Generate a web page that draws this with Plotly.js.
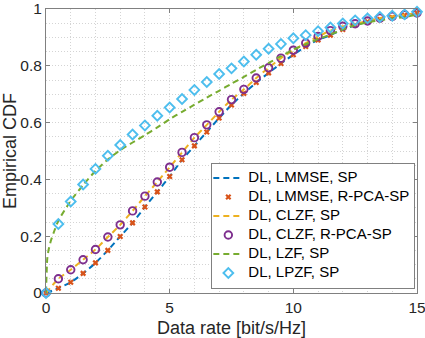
<!DOCTYPE html>
<html>
<head>
<meta charset="utf-8">
<script src="https://cdn.plot.ly/plotly-3.0.1.min.js"></script>
<style>html,body{margin:0;padding:0;background:#fff;}#chart{width:425px;height:338px;}</style>
</head>
<body>
<div id="chart"></div>
<script>
// Data rate grid for marker series (bit/s/Hz)
const rate = [0,0.5,1,1.5,2,2.5,3,3.5,4,4.5,5,5.5,6,6.5,7,7.5,8,8.5,9,9.5,10,10.5,11,11.5,12,12.5,13,13.5,14,14.5,15];

// DL, LMMSE (SP line and R-PCA-SP markers)
const lmmse = [0,0.017,0.038,0.069,0.106,0.150,0.199,0.247,0.303,0.356,0.410,0.469,0.518,0.567,0.616,0.662,0.703,0.741,0.775,0.808,0.839,0.868,0.891,0.908,0.928,0.943,0.955,0.963,0.970,0.978,0.986];

// DL, CLZF (SP line and R-PCA-SP markers)
const clzf = [0,0.050,0.082,0.117,0.153,0.197,0.240,0.289,0.341,0.391,0.443,0.495,0.547,0.592,0.638,0.681,0.717,0.757,0.793,0.827,0.855,0.880,0.903,0.924,0.939,0.948,0.958,0.968,0.974,0.980,0.986];

// DL, LZF, SP (line)
const lzfRate = [0,0.05,0.1,0.2,0.3,0.5,1,1.5,2,2.5,3,3.5,4,4.5,5,5.5,6,6.5,7,7.5,8,8.5,9,9.5,10,10.5,11,11.5,12,12.5,13,13.5,14,14.5,15];
const lzf = [0,0.12,0.15,0.185,0.21,0.255,0.325,0.38,0.43,0.47,0.503,0.53,0.556,0.583,0.612,0.638,0.663,0.688,0.712,0.737,0.761,0.786,0.81,0.834,0.857,0.876,0.894,0.91,0.928,0.943,0.953,0.96,0.966,0.972,0.98];

// DL, LPZF, SP (markers)
const lpzf = [0,0.243,0.322,0.382,0.437,0.483,0.521,0.558,0.590,0.624,0.653,0.683,0.715,0.743,0.771,0.791,0.815,0.839,0.860,0.877,0.897,0.908,0.922,0.935,0.949,0.960,0.967,0.972,0.976,0.981,0.990];

const names = ['DL, LMMSE, SP','DL, LMMSE, R-PCA-SP','DL, CLZF, SP','DL, CLZF, R-PCA-SP','DL, LZF, SP','DL, LPZF, SP'];
const xTicks = [0,5,10,15];
const yTicks = [0,0.2,0.4,0.6,0.8,1];
const yTickText = ['0','0.2','0.4','0.6','0.8','1'];

const legendName = s => '<span style="font-size:15px">' + s + '</span>';
const dashPat = '6px,4px';
const traces = [
  {x: rate, y: lmmse, name: legendName(names[0]), mode: 'lines', line: {color: '#0072BD', width: 2, dash: dashPat, shape: 'spline', smoothing: 0.6}},
  {x: rate, y: lmmse, name: legendName(names[1]), mode: 'markers', marker: {symbol: 'x-thin-open', size: 4.5, color: '#D95319', line: {color: '#D95319', width: 2.2}}},
  {x: rate, y: clzf, name: legendName(names[2]), mode: 'lines', line: {color: '#EDB120', width: 2, dash: dashPat, shape: 'spline', smoothing: 0.6}},
  {x: rate, y: clzf, name: legendName(names[3]), mode: 'markers', marker: {symbol: 'circle-open', size: 7.5, color: '#7E2F8E', line: {color: '#7E2F8E', width: 1.9}}},
  {x: lzfRate, y: lzf, name: legendName(names[4]), mode: 'lines', line: {color: '#77AC30', width: 2, dash: dashPat, shape: 'spline', smoothing: 0.5}},
  {x: rate, y: lpzf, name: legendName(names[5]), mode: 'markers', marker: {symbol: 'diamond-open', size: 7.5, color: '#4DBEEE', line: {color: '#4DBEEE', width: 1.9}}}
];
traces.forEach(t => { t.cliponaxis = false; });

const gridColor = '#d4d4d4';
const axisColor = '#808080';
const layout = {
  width: 425, height: 338,
  margin: {l: 46, r: 8, t: 9, b: 45, pad: 0},
  paper_bgcolor: '#fff', plot_bgcolor: '#fff',
  font: {family: 'Liberation Sans, Arial, sans-serif', color: '#262626', size: 15},
  showlegend: true,
  legend: {
    x: 0.9955, xanchor: 'right', y: 0.0157, yanchor: 'bottom',
    bgcolor: '#fff', bordercolor: axisColor, borderwidth: 1,
    font: {size: 11, color: '#000'}, itemwidth: 30, tracegroupgap: 0, indentation: -4
  },
  xaxis: {
    range: [0, 15], tickvals: xTicks, ticktext: xTicks.map(String),
    showline: true, linecolor: axisColor, linewidth: 1, mirror: 'ticks',
    ticks: 'inside', ticklen: 4, tickcolor: axisColor, ticklabeloverflow: 'allow',
    showgrid: true, gridcolor: gridColor, griddash: '1px,2px', gridwidth: 1,
    minor: {dtick: 1, tick0: 0, showgrid: true, gridcolor: gridColor, griddash: '1px,2px', gridwidth: 1, ticks: ''},
    zeroline: false, tickfont: {size: 15.5},
    title: {text: 'Data rate [bit/s/Hz]', font: {size: 18}, standoff: 6}
  },
  yaxis: {
    range: [0, 1], tickvals: yTicks, ticktext: yTickText,
    showline: true, linecolor: axisColor, linewidth: 1, mirror: 'ticks',
    ticks: 'inside', ticklen: 4, tickcolor: axisColor, ticklabeloverflow: 'allow',
    showgrid: true, gridcolor: gridColor, griddash: '1px,2px', gridwidth: 1,
    minor: {dtick: 0.05, tick0: 0, showgrid: true, gridcolor: gridColor, griddash: '1px,2px', gridwidth: 1, ticks: ''},
    zeroline: false, tickfont: {size: 15.5},
    title: {text: 'Empirical CDF', font: {size: 18}, standoff: 5}
  }
};

Plotly.newPlot('chart', traces, layout, {displayModeBar: false, staticPlot: true});
</script>
</body>
</html>
